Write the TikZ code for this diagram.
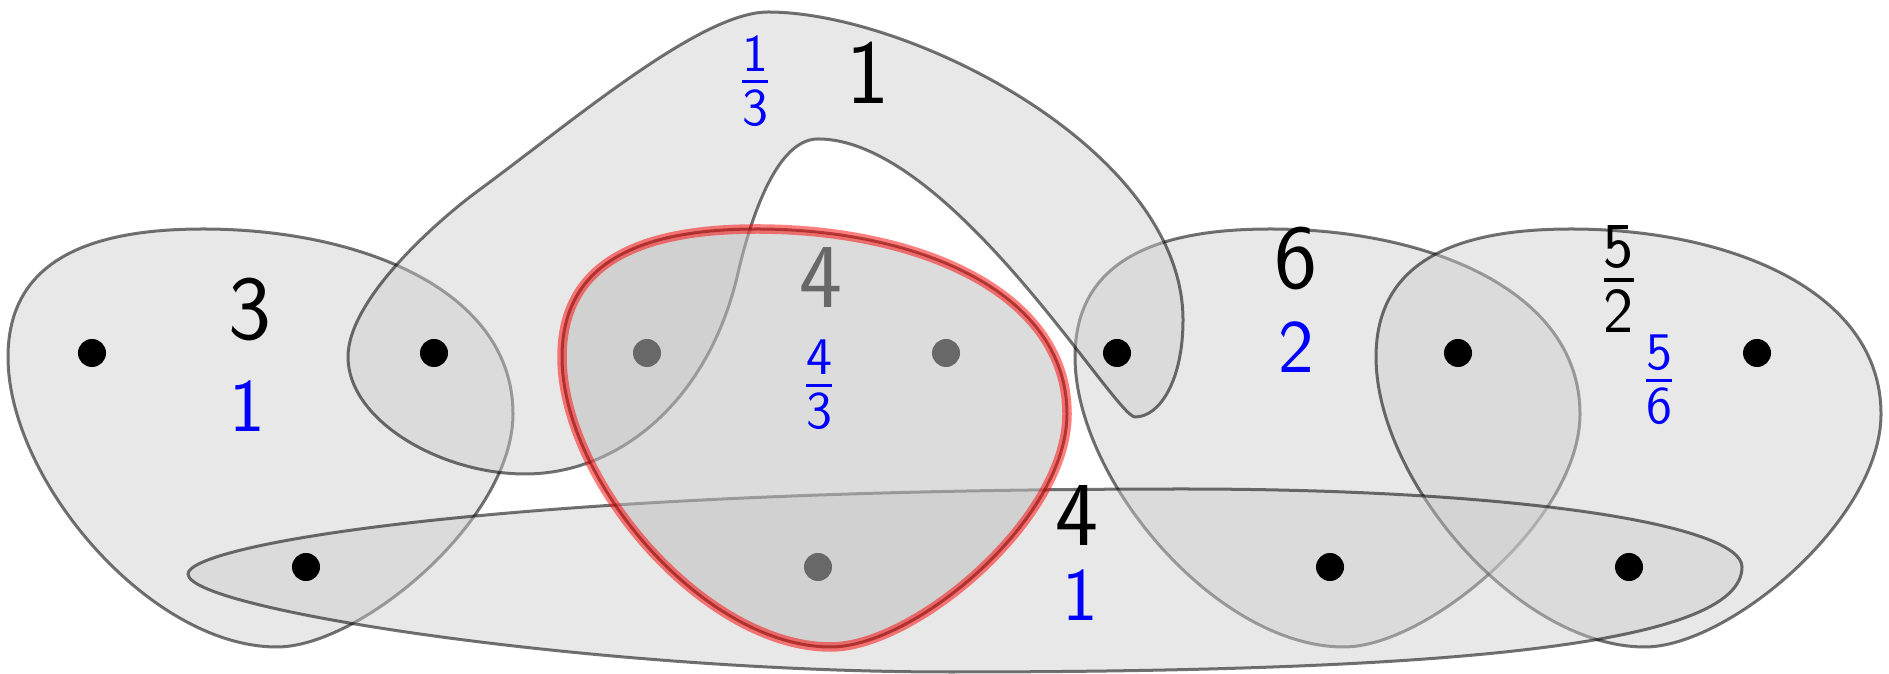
\documentclass[tikz,border=0pt]{standalone}
\usepackage{amsmath}
\newcommand{\myfrac}[2]{$\genfrac{}{}{0.042em}{1}{\text{#1}}{\text{#2}}$}
\tikzset{
  hyper/.style={fill=black!20, fill opacity=0.45, draw=black, draw opacity=0.55, line width=0.03cm},
  redhyper/.style={fill=black!25, fill opacity=0.55, draw=black, draw opacity=0.55, line width=0.03cm},
  redline/.style={draw=red, draw opacity=0.5, line width=0.095cm},
  dot/.style={circle, fill=black, inner sep=0pt, minimum size=0.28cm},
  biglab/.style={inner sep=0pt, font=\sffamily\fontsize{26}{30}\selectfont},
  bluelab/.style={inner sep=0pt, text=blue, font=\sffamily\fontsize{21.5}{26}\selectfont},
  tear/.pic={\path[pic actions] (8,357) .. controls (8,260) and (90,229) .. (203,229)
    .. controls (360,229) and (513,290) .. (513,414)
    .. controls (513,520) and (360,647) .. (277,647)
    .. controls (150,647) and (8,480) .. (8,357) -- cycle;}
}
\begin{document}
\begin{tikzpicture}[x=0.01cm, y=-0.01cm]
\useasboundingbox (0,0) rectangle (1889,674);
% hyperedges
\pic[hyper] at (0,0) {tear};
\pic[hyper] at (1067,0) {tear};
\pic[hyper] at (1368,0) {tear};
\path[hyper] (768,12) .. controls (910,12) and (1183,150) .. (1183,320)
  .. controls (1183,380) and (1160,417) .. (1135,417)
  .. controls (1115,417) and (950,139) .. (818,139)
  .. controls (778,139) and (752,213) .. (738,273)
  .. controls (709,400) and (620,474) .. (525,474)
  .. controls (440,474) and (348,420) .. (348,357)
  .. controls (348,300) and (435,223) .. (475,193)
  .. controls (572,122) and (700,12) .. (768,12) -- cycle;
\path[hyper] (188,574) .. controls (188,545) and (500,489) .. (1183,489)
  .. controls (1520,489) and (1742,525) .. (1742,567)
  .. controls (1742,645) and (1450,672) .. (950,672)
  .. controls (600,672) and (188,610) .. (188,574) -- cycle;
% vertices
\node[dot] (t1) at (92,353) {};
\node[dot] (t2) at (434,353) {};
\node[dot] (t3) at (647,353) {};
\node[dot] (t4) at (946,353) {};
\node[dot] (t5) at (1117,353) {};
\node[dot] (t6) at (1458,353) {};
\node[dot] (t7) at (1757,353) {};
\node[dot] (b1) at (306,567) {};
\node[dot] (b2) at (818,567) {};
\node[dot] (b3) at (1330,567) {};
\node[dot] (b4) at (1629,567) {};
\node[biglab] (w4) at (821,278) {4};
% highlighted hyperedge
\pic[redhyper] at (554,0) {tear};
\pic[redline] at (554,0) {tear};
% labels
\node[biglab] (w3) at (250,310) {3};
\node[bluelab] (c3) at (247,406) {1};
\node[bluelab] (c1) at (755,81) {\myfrac{1}{3}};
\node[biglab] (w1) at (868,73) {1};
\node[bluelab] (c4) at (819,385) {\myfrac{4}{3}};
\node[biglab] (w6) at (1296,259) {6};
\node[bluelab] (c6) at (1296,347) {2};
\node[biglab] (w4b) at (1077,516) {4};
\node[bluelab] (c4b) at (1080,595) {1};
\node[biglab] (w5) at (1619,279) {\myfrac{5}{2}};
\node[bluelab] (c5) at (1659,380) {\myfrac{5}{6}};
\end{tikzpicture}
\end{document}
